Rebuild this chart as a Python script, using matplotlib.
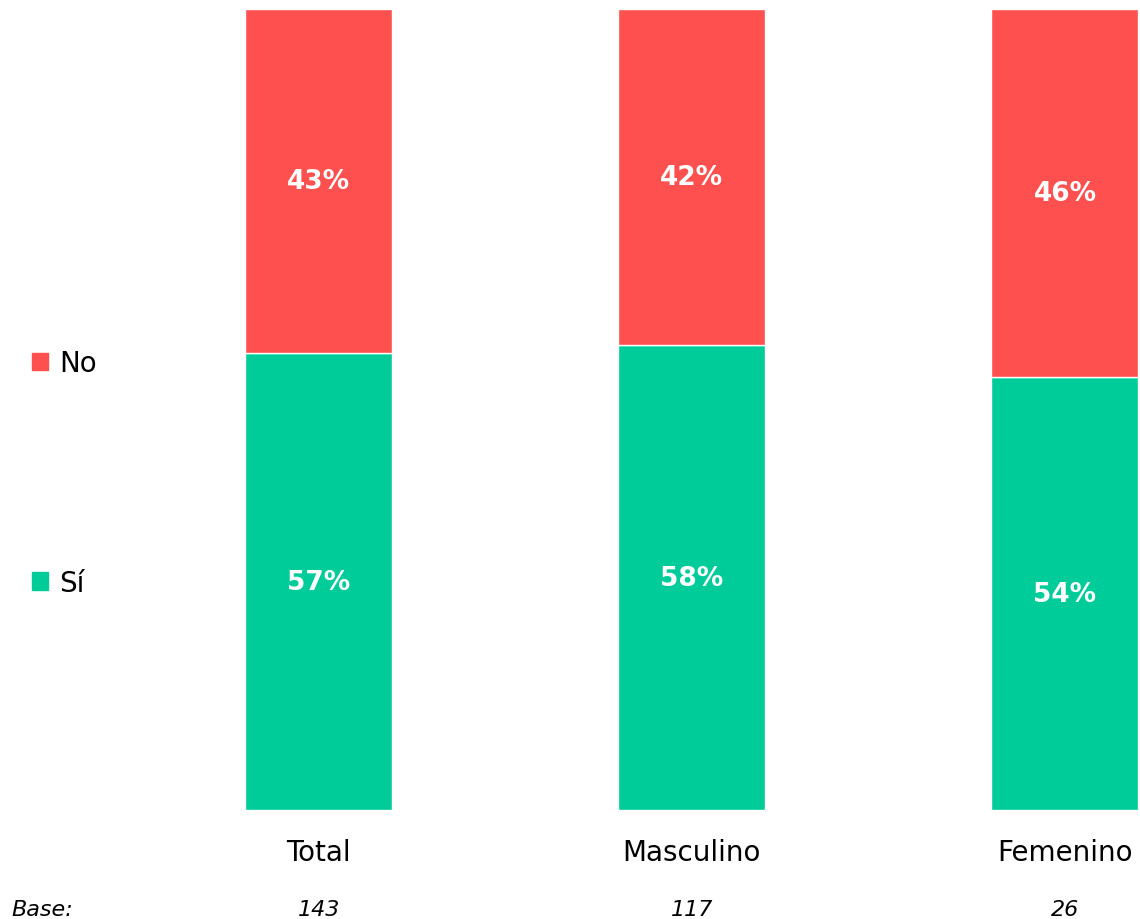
import numpy as np
import matplotlib.pyplot as plt
from matplotlib.patches import Patch

# data
categorias = ['Total', 'Masculino', 'Femenino']
si = [57, 58, 54]
no = [43, 42, 46]
bases = [143, 117, 26]

color_si = '#00CC99'
color_no = '#FF5050'

plt.rcParams['font.family'] = ['DejaVu Sans']

fig = plt.figure(figsize=(11.4, 9.2), dpi=100)
ax = fig.add_axes([0.018, 0.1185, 0.9816, 0.8707])

x = np.arange(len(categorias))
si_f = np.array(si) / 100
no_f = np.array(no) / 100
ancho = 0.394

ax.bar(x, si_f, ancho, color=color_si, edgecolor='white', linewidth=1)
ax.bar(x, no_f, ancho, bottom=si_f, color=color_no, edgecolor='white', linewidth=1)

for i in range(len(x)):
    ax.text(x[i], si_f[i] / 2, f'{si[i]}%', ha='center', va='center',
            color='white', fontsize=19, fontweight='bold')
    ax.text(x[i], si_f[i] + no_f[i] / 2, f'{no[i]}%', ha='center', va='center',
            color='white', fontsize=19, fontweight='bold')
    ax.text(x[i], -0.053, categorias[i], ha='center', va='center', fontsize=20)
    ax.text(x[i], -0.124, str(bases[i]), ha='center', va='center',
            fontsize=16, style='italic')

# "Base:" a la izquierda
ax.text(-0.8 - 9 / 373, -0.124, 'Base:', ha='left', va='center',
        fontsize=16, style='italic', clip_on=False)

ax.set_xlim(-0.8, 2.2)
ax.set_ylim(0, 1)
ax.axis('off')

handles = [Patch(color=color_no, label='No'), Patch(color=color_si, label='Sí')]
fig.legend(handles=handles, loc='upper left', bbox_to_anchor=(0.018, 0.6315),
           frameon=False, fontsize=20, handlelength=0.6, handleheight=0.6,
           handletextpad=0.4, labelspacing=6.9, borderaxespad=0)

fig.savefig('out.png', dpi=100)
